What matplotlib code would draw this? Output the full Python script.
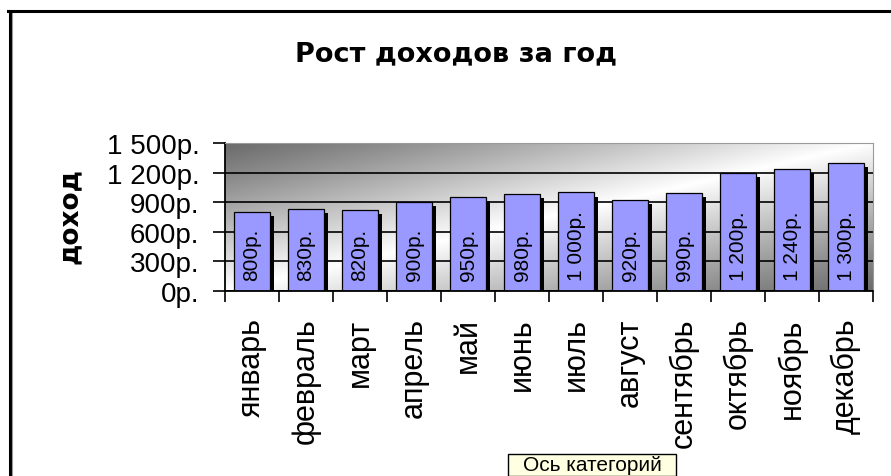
import matplotlib
matplotlib.use("Agg")
import matplotlib.pyplot as plt
import matplotlib.patheffects as pe
from matplotlib.patches import Rectangle
from matplotlib.lines import Line2D
import numpy as np

months = ["январь", "февраль", "март", "апрель", "май", "июнь",
          "июль", "август", "сентябрь", "октябрь", "ноябрь", "декабрь"]
income = [800, 830, 820, 900, 950, 980, 1000, 920, 990, 1200, 1240, 1300]
y_ticks = [0, 300, 600, 900, 1200, 1500]

W, H = 891, 477


def rub(v):
    return "{:,}".format(int(v)).replace(",", " ") + "р."


def fx(px):
    return px / W


def fy(py):
    return 1 - py / H


plt.rcParams['font.family'] = ['Liberation Sans', 'DejaVu Sans']

fig = plt.figure(figsize=(W / 100, H / 100), dpi=100)
fig.patch.set_facecolor("white")
ax = fig.add_axes([fx(225), fy(292), fx(873) - fx(225), fy(144) - fy(292)])

x = np.arange(len(months))

# diagonal grey gradient of the plot area
u = np.linspace(0, 1, 300)
v = np.linspace(0, 1, 120)
uu, vv = np.meshgrid(u, v)
s = (uu + vv) / 2
dark = 0.42
g = dark + (1 - dark) * (1 - np.abs(2 * s - 1)) ** 1.1
ax.imshow(np.dstack([g, g, g]), extent=[-0.5, len(months) - 0.5, 0, 1500],
          aspect="auto", zorder=-1, interpolation="bilinear")

bars = ax.bar(x, income, width=0.667, color="#9999FF", edgecolor="black",
              linewidth=0.9, zorder=2)
for b in bars:
    b.set_path_effects([pe.SimplePatchShadow(offset=(3, -3), shadow_rgbFace="black", alpha=1),
                        pe.Normal()])

for xi, val in zip(x, income):
    ax.annotate(rub(val), (xi, 0), xytext=(0, 8), textcoords="offset points",
                rotation=90, ha="center", va="bottom", fontsize=15, zorder=3)

ax.set_xlim(-0.5, len(months) - 0.5)
ax.set_ylim(0, 1500)

ax.set_yticks(y_ticks)
ax.set_yticklabels([rub(t) for t in y_ticks])
ax.yaxis.grid(True, color="black", linewidth=1.2)
ax.set_axisbelow(True)

ax.set_xticks(x)
ax.set_xticklabels(months, rotation=90, va="top", fontsize=22)
ax.set_xticks(np.arange(-0.5, len(months), 1), minor=True)
ax.tick_params(axis="x", which="major", length=0, pad=19)
ax.tick_params(axis="x", which="minor", length=8, width=1.2, direction="out")
ax.tick_params(axis="y", length=8.5, width=1.2, pad=10, labelsize=20)

for side in ("left", "bottom"):
    ax.spines[side].set_color("black")
    ax.spines[side].set_linewidth(1.3)
for side in ("top", "right"):
    ax.spines[side].set_color("#9a9a9a")
    ax.spines[side].set_linewidth(0.8)

fig.text(fx(456), fy(54), "Рост доходов за год", ha="center", va="center",
         fontsize=19.5, fontweight="bold", family="DejaVu Sans")
fig.text(fx(70), fy(216), "доход", ha="center", va="center", rotation=90,
         fontsize=19, fontweight="bold", family="DejaVu Sans")

# window frame
fig.add_artist(Line2D([fx(9.5), fx(9.5)], [fy(12), 0], color="black", linewidth=2.2))
fig.add_artist(Line2D([fx(11.5), fx(11.5)], [fy(13.5), 0], color="#9a9a9a", linewidth=0.8))
fig.add_artist(Line2D([fx(8), 1], [fy(12), fy(12)], color="black", linewidth=2.2))

# tooltip
fig.add_artist(Rectangle((fx(508), 0), fx(676) - fx(508), fy(455), transform=fig.transFigure,
                         facecolor="#FFFFE1", edgecolor="black", linewidth=1))
fig.text(fx(592), fy(466), "Ось категорий", ha="center", va="center", fontsize=15)

fig.savefig("out.png", dpi=100)
